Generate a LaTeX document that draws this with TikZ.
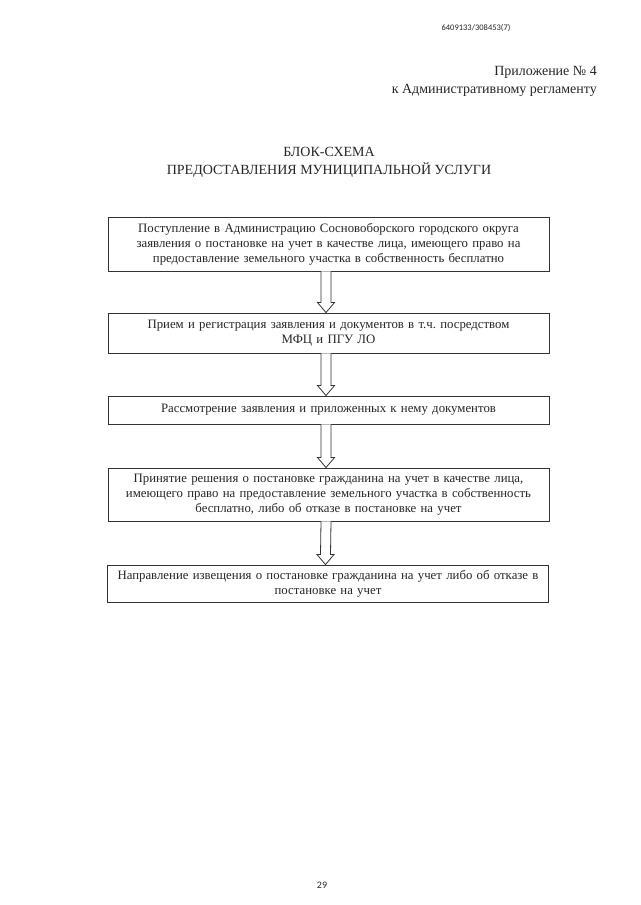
\documentclass[tikz,border=0pt]{standalone}
\usepackage{fontspec}
\setmainfont{Liberation Serif}
\newfontfamily\hdrfont{Carlito}
\usetikzlibrary{calc}
\frenchspacing
\tikzset{
  stepbox/.style={draw=black!80, line width=0.9pt, rectangle, minimum width=441pt, text width=435pt, align=center, inner sep=0pt, font=\fontsize{12.8}{15.2}\selectfont, text=black!85},
  hollow/.style={draw=black!80, line width=0.8pt, fill=white},
  plain/.style={inner sep=0pt, text=black!85}
}
\begin{document}
\begin{tikzpicture}[x=1pt,y=-1pt]
\useasboundingbox (0,0) rectangle (640,905);
\fill[white] (0,0) rectangle (640,905);
\node[plain, font=\hdrfont\fontsize{8.5}{9}\selectfont] (hdr) at (476,28) {6409133/308453(7)};
\node[plain, anchor=east, font=\fontsize{14}{16}\selectfont] (app1) at (597,72) {Приложение № 4};
\node[plain, anchor=east, font=\fontsize{14}{16}\selectfont] (app2) at (597,90) {к Административному регламенту};
\node[plain, font=\fontsize{14}{16}\selectfont] (t1) at (329,152) {БЛОК-СХЕМА};
\node[plain, font=\fontsize{14}{16}\selectfont] (t2) at (329,170) {ПРЕДОСТАВЛЕНИЯ МУНИЦИПАЛЬНОЙ УСЛУГИ};

\node[stepbox, minimum height=54pt] (b1) at (328.5,244) {Поступление в Администрацию Сосновоборского городского округа\\заявления о постановке на учет в качестве лица, имеющего право на\\предоставление земельного участка в собственность бесплатно};
\node[stepbox, minimum height=40pt] (b2) at (328.5,333) {Прием и регистрация заявления и документов в т.ч. посредством\\МФЦ и ПГУ ЛО};
\node[stepbox, minimum height=28pt] (b3) at (328.5,410) {Рассмотрение заявления и приложенных к нему документов};
\node[stepbox, minimum height=53pt] (b4) at (328.5,494.5) {Принятие решения о постановке гражданина на учет в качестве лица,\\имеющего право на предоставление земельного участка в собственность\\бесплатно, либо об отказе в постановке на учет};
\node[stepbox, minimum height=37pt] (b5) at (328,583.5) {Направление извещения о постановке гражданина на учет либо об отказе в\\постановке на учет};

\foreach \a/\b in {b1/b2,b2/b3,b3/b4,b4/b5}{
  \draw[hollow] ($(\a.south)+(-7.5,0)$) -- ($(\b.north)+(-7.5,-10)$) -- ($(\b.north)+(-11,-10)$) -- ($(\b.north)+(-2.5,0)$) -- ($(\b.north)+(6,-10)$) -- ($(\b.north)+(2.5,-10)$) -- ($(\a.south)+(2.5,0)$);
}

\node[plain, font=\hdrfont\fontsize{10}{12}\selectfont] (pg) at (322,885) {29};
\end{tikzpicture}
\end{document}
